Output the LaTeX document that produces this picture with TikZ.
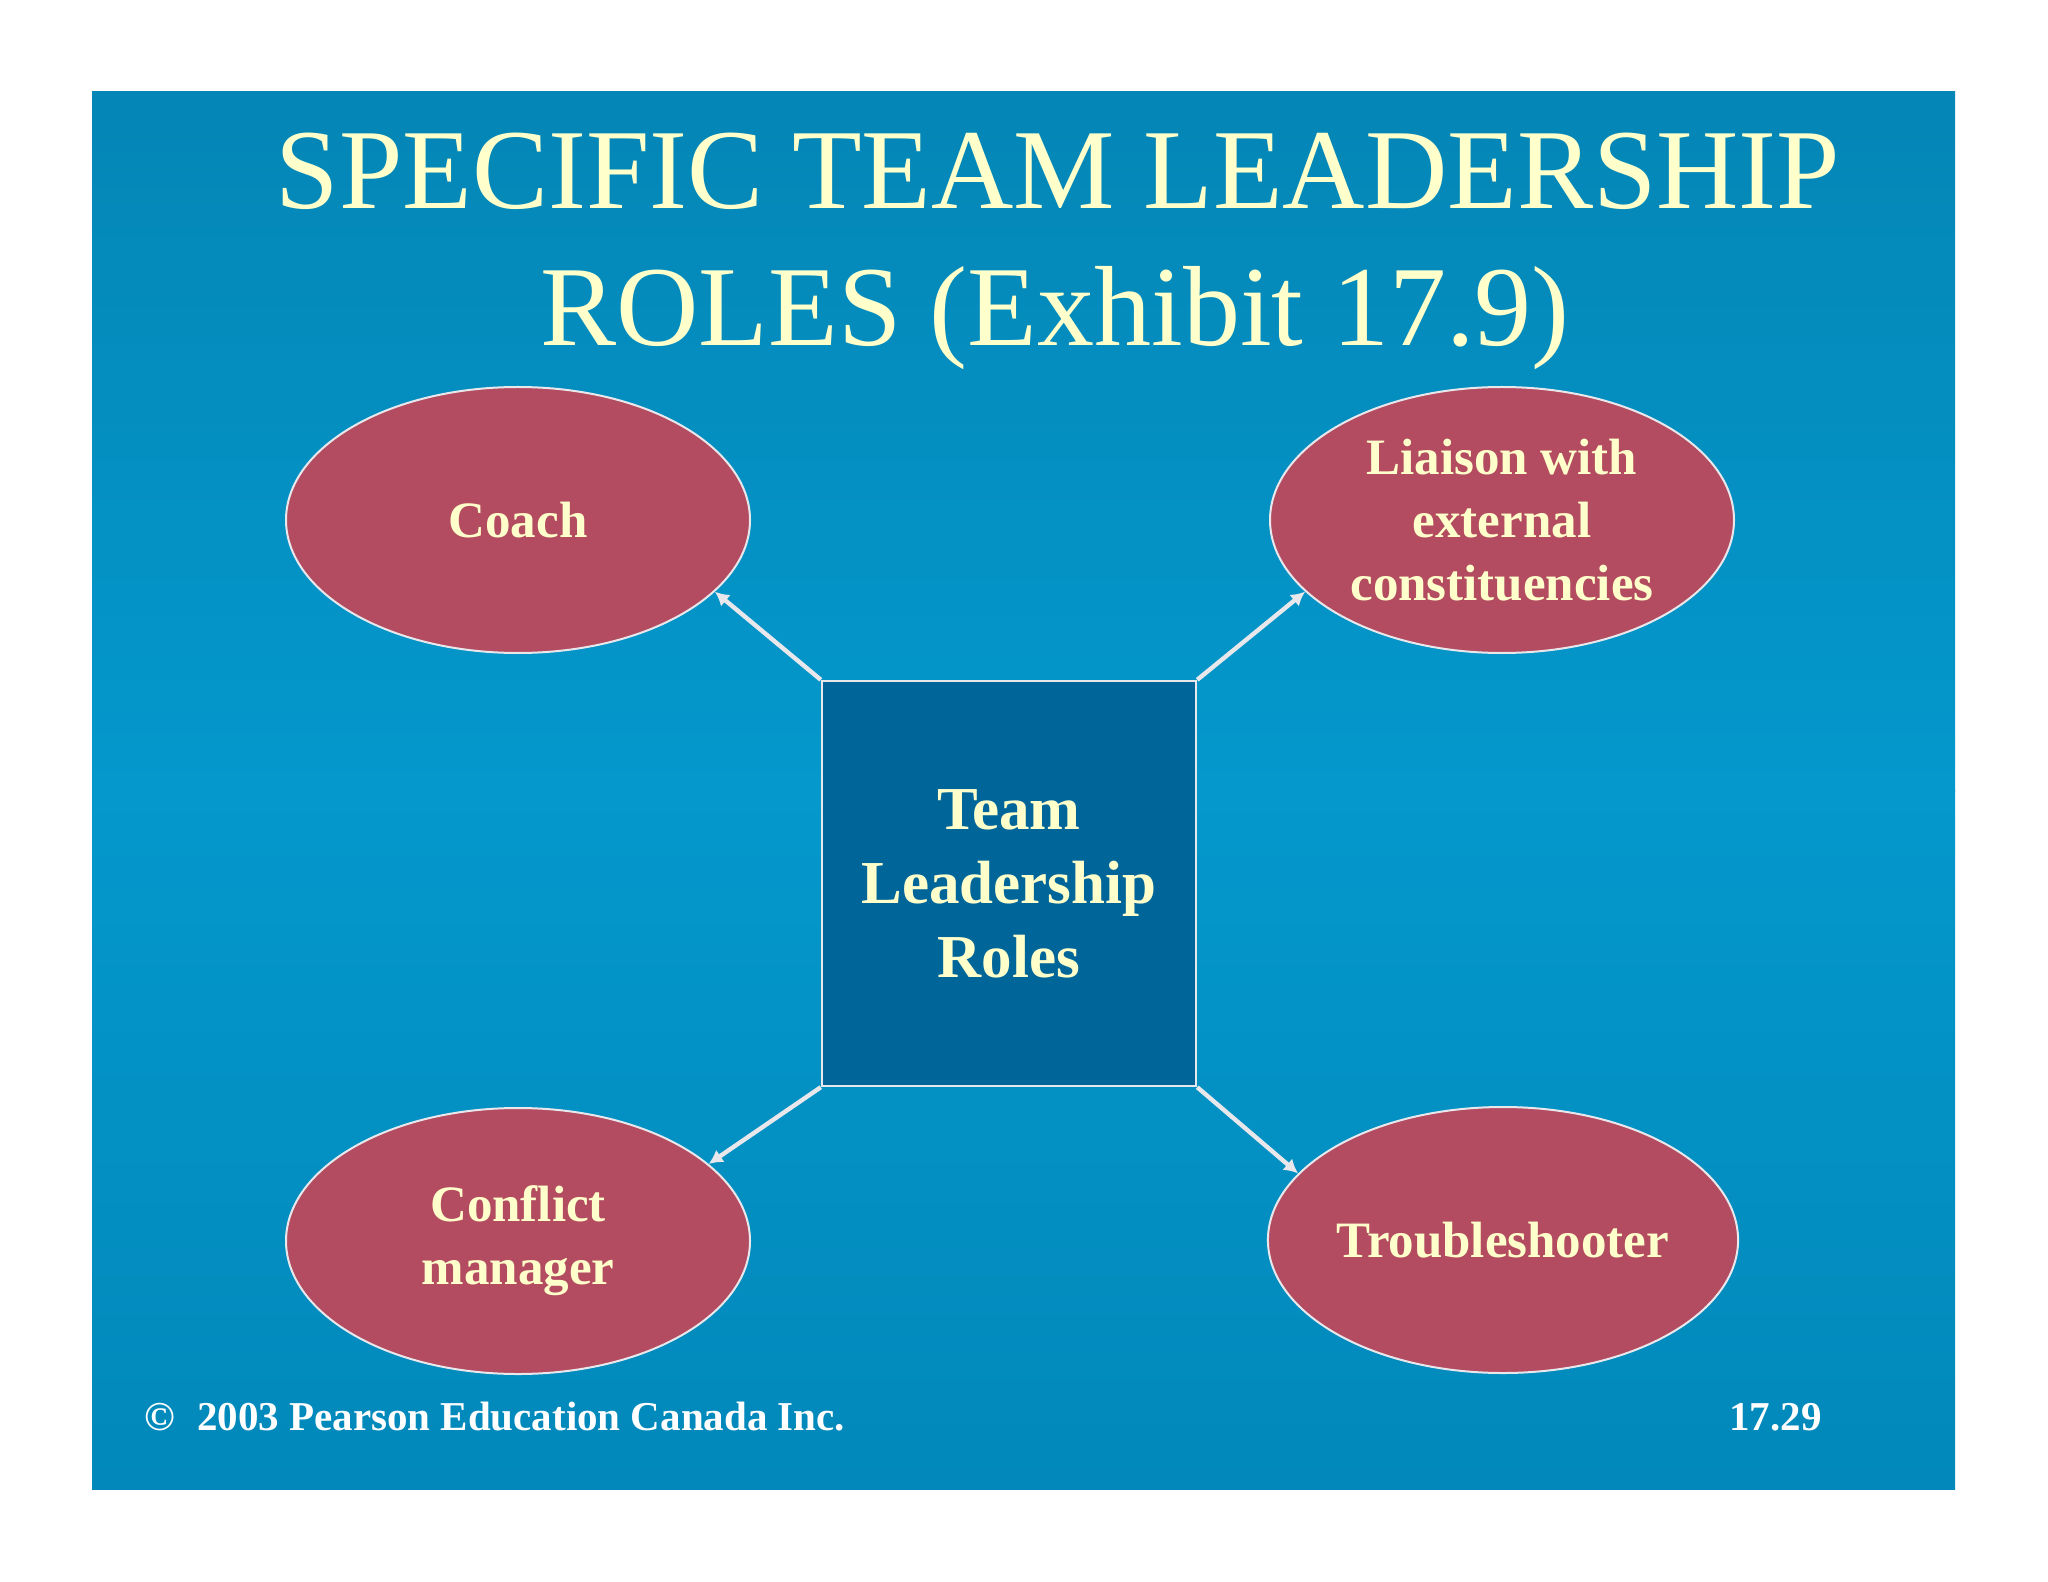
\documentclass[tikz,border=0pt]{standalone}
\usepackage{fontspec}
\setmainfont{Liberation Serif}
\usetikzlibrary{shapes.geometric,arrows.meta}
\definecolor{bgtop}{RGB}{4,134,182}
\definecolor{bgmid}{RGB}{4,152,204}
\definecolor{bgbot}{RGB}{2,136,186}
\definecolor{boxfill}{RGB}{0,102,153}
\definecolor{ovalfill}{RGB}{179,76,96}
\definecolor{txt}{RGB}{255,255,204}
\definecolor{linec}{RGB}{232,232,236}
\tikzset{
  oval/.style={ellipse, draw=linec, line width=1pt, fill=ovalfill,
    minimum width=232pt, minimum height=133pt, inner sep=0pt,
    text=txt, align=center,
    font=\fontsize{25.5}{31.5}\selectfont\bfseries},
  centerbox/.style={rectangle, draw=linec, line width=1.2pt, fill=boxfill,
    minimum width=187pt, minimum height=202.5pt, inner sep=0pt,
    text=txt, align=center,
    font=\fontsize{30.5}{37}\selectfont\bfseries},
  conn/.style={draw=linec, line width=2.2pt, -{Latex[length=7pt,width=7.5pt]}},
  titletext/.style={text=txt, anchor=base, inner sep=0pt,
    font=\fontsize{57}{57}\selectfont},
  foot/.style={text=white, inner sep=0pt,
    font=\fontsize{20.5}{20.5}\selectfont\bfseries}
}
\begin{document}
\begin{tikzpicture}[x=0.5pt,y=-0.5pt]
\useasboundingbox (0,0) rectangle (2048,1582);
\fill[white] (0,0) rectangle (2048,1582);
\shade[top color=bgtop, bottom color=bgmid] (92,92) rectangle (1955,791);
\shade[top color=bgmid, bottom color=bgbot] (92,790) rectangle (1955,1489);

\node[titletext] (t1) at (1058,209) {SPECIFIC TEAM LEADERSHIP};
\node[titletext] (t2) at (1055,346) {ROLES (Exhibit 17.9)};

\node[centerbox] (box) at (1009,883.5) {Team\\Leadership\\Roles};

\node[oval] (coach) at (518,520) {Coach};
\node[oval] (liaison) at (1502,520) {Liaison with\\external\\constituencies};
\node[oval] (conflict) at (518,1241) {Conflict\\manager};
\node[oval] (trouble) at (1503,1240) {Troubleshooter};

\draw[conn] (box.north west) -- (coach.-20);
\draw[conn] (box.north east) -- (liaison.200);
\draw[conn] (box.south west) -- (conflict.22);
\draw[conn] (box.south east) -- (trouble.162);

\node[foot, anchor=base west] (copy) at (144,1430) {©\hspace{11pt}2003 Pearson Education Canada Inc.};
\node[foot, anchor=base east] (pnum) at (1822,1430) {17.29};
\end{tikzpicture}
\end{document}
